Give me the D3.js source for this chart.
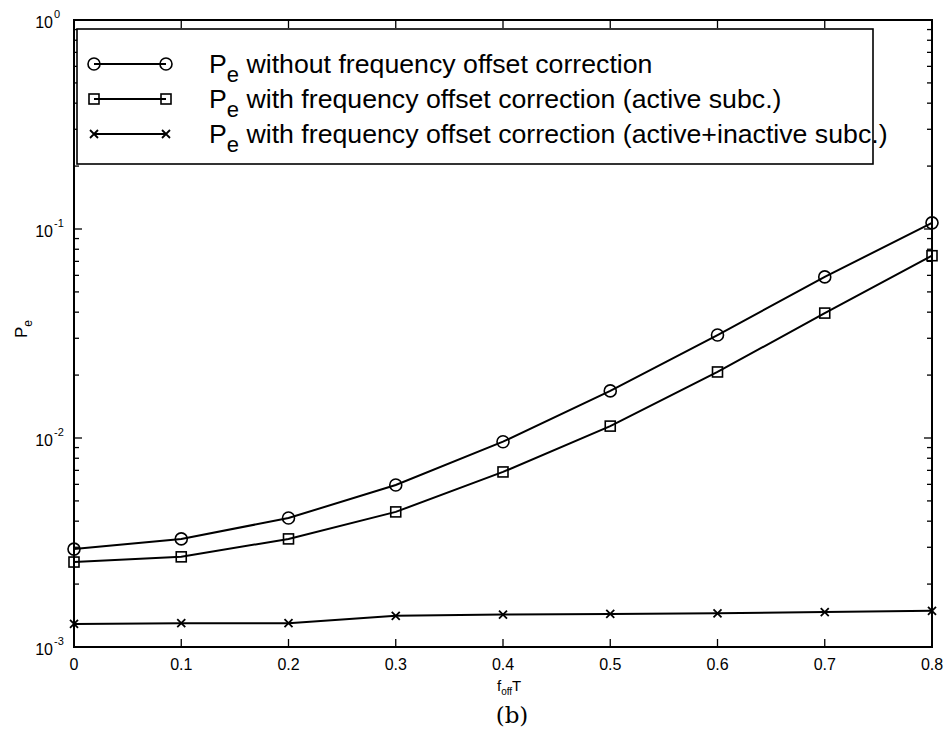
<!DOCTYPE html>
<html>
<head>
<meta charset="utf-8">
<script src="https://cdn.jsdelivr.net/npm/d3@7"></script>
<style>
  html, body { margin: 0; padding: 0; background: #fff; }
  svg { display: block; }
  text { font-family: "Liberation Sans", Arial, Helvetica, sans-serif; fill: #000; }
</style>
</head>
<body>
<svg id="chart" width="949" height="737"></svg>
<script>
// Normalised frequency offset f_off*T
const offsets = [0, 0.1, 0.2, 0.3, 0.4, 0.5, 0.6, 0.7, 0.8];
// Error probability without frequency offset correction
const peNoCorrection = [2.94e-3, 3.29e-3, 4.14e-3, 5.96e-3, 9.6e-3, 1.68e-2, 3.11e-2, 5.9e-2, 1.07e-1];
// Error probability with correction using active subcarriers
const peActive = [2.55e-3, 2.70e-3, 3.29e-3, 4.43e-3, 6.88e-3, 1.14e-2, 2.07e-2, 3.96e-2, 7.45e-2];
// Error probability with correction using active + inactive subcarriers
const peActiveInactive = [1.29e-3, 1.30e-3, 1.30e-3, 1.41e-3, 1.43e-3, 1.44e-3, 1.45e-3, 1.47e-3, 1.49e-3];

const xTicks = [0, 0.1, 0.2, 0.3, 0.4, 0.5, 0.6, 0.7, 0.8];
const xTickLabels = ["0", "0.1", "0.2", "0.3", "0.4", "0.5", "0.6", "0.7", "0.8"];
const yDecades = [1e-3, 1e-2, 1e-1, 1e0];
const yDecadeExponents = ["-3", "-2", "-1", "0"];
const legendLabels = [
  " without frequency offset correction",
  " with frequency offset correction (active subc.)",
  " with frequency offset correction (active+inactive subc.)"
];

const svg = d3.select("#chart");
const plotLeft = 74, plotRight = 932, plotTop = 20, plotBottom = 647;

const x = d3.scaleLinear().domain([0, 0.8]).range([plotLeft, plotRight]);
const y = d3.scaleLog().domain([1e-3, 1]).range([plotBottom, plotTop]);

// minor ticks of the log axis (2..9 inside each decade)
const minor = [];
for (let d = -3; d < 0; d++) for (let m = 2; m <= 9; m++) minor.push(m * Math.pow(10, d));

const axes = svg.append("g");

// tick marks on all four sides
const tickG = axes.append("g").attr("stroke", "#000").attr("stroke-width", 1.3);
xTicks.forEach(v => {
  tickG.append("line").attr("x1", x(v)).attr("x2", x(v)).attr("y1", plotBottom).attr("y2", plotBottom - 8);
  tickG.append("line").attr("x1", x(v)).attr("x2", x(v)).attr("y1", plotTop).attr("y2", plotTop + 8);
});
yDecades.forEach(v => {
  tickG.append("line").attr("x1", plotLeft).attr("x2", plotLeft + 8).attr("y1", y(v)).attr("y2", y(v));
  tickG.append("line").attr("x1", plotRight).attr("x2", plotRight - 8).attr("y1", y(v)).attr("y2", y(v));
});
minor.forEach(v => {
  tickG.append("line").attr("x1", plotLeft).attr("x2", plotLeft + 5).attr("y1", y(v)).attr("y2", y(v));
  tickG.append("line").attr("x1", plotRight).attr("x2", plotRight - 5).attr("y1", y(v)).attr("y2", y(v));
});

// frame
axes.append("rect")
  .attr("x", plotLeft).attr("y", plotTop)
  .attr("width", plotRight - plotLeft).attr("height", plotBottom - plotTop)
  .attr("fill", "none").attr("stroke", "#000").attr("stroke-width", 2);

// x tick labels
axes.append("g").selectAll("text").data(xTicks).join("text")
  .attr("x", d => x(d)).attr("y", plotBottom + 23)
  .attr("text-anchor", "middle").attr("font-size", 16)
  .text((d, i) => xTickLabels[i]);

// y tick labels: 10 with a superscript exponent
yDecades.forEach((v, i) => {
  axes.append("text").attr("x", 53).attr("y", y(v) + 8)
    .attr("text-anchor", "end").attr("font-size", 16).text("10");
  axes.append("text").attr("x", 54).attr("y", y(v) - 2)
    .attr("font-size", 11).text(yDecadeExponents[i]);
});

// axis titles
const xl = axes.append("text").attr("x", 497).attr("y", 691).attr("font-size", 15);
xl.append("tspan").text("f");
xl.append("tspan").attr("dy", 4).attr("font-size", 10).text("off");
xl.append("tspan").attr("dy", -4).text("T");

const yl = axes.append("text")
  .attr("transform", "translate(27,338) rotate(-90)").attr("font-size", 17);
yl.append("tspan").text("P");
yl.append("tspan").attr("dy", 5).attr("font-size", 12).text("e");

svg.append("text").attr("x", 512).attr("y", 723)
  .attr("text-anchor", "middle").attr("font-size", 23)
  .style("font-family", "'DejaVu Serif', 'Liberation Serif', serif")
  .text("(b)");

// series
const seriesList = [
  { values: peNoCorrection, marker: "circle" },
  { values: peActive, marker: "square" },
  { values: peActiveInactive, marker: "cross" }
];

const line = d3.line().x((d, i) => x(offsets[i])).y(d => y(d));

function drawMarker(g, type, cx, cy) {
  if (type === "circle") {
    g.append("circle").attr("cx", cx).attr("cy", cy).attr("r", 6)
      .attr("fill", "none").attr("stroke", "#000").attr("stroke-width", 1.6);
  } else if (type === "square") {
    g.append("rect").attr("x", cx - 5).attr("y", cy - 5).attr("width", 10).attr("height", 10)
      .attr("fill", "none").attr("stroke", "#000").attr("stroke-width", 1.6);
  } else {
    const s = 4;
    g.append("path").attr("d", `M${cx - s},${cy - s}L${cx + s},${cy + s}M${cx - s},${cy + s}L${cx + s},${cy - s}`)
      .attr("stroke", "#000").attr("stroke-width", 1.8);
  }
}

const plot = svg.append("g");
seriesList.forEach(s => {
  plot.append("path").datum(s.values).attr("d", line)
    .attr("fill", "none").attr("stroke", "#000").attr("stroke-width", 2);
  const mg = plot.append("g");
  s.values.forEach((v, i) => drawMarker(mg, s.marker, x(offsets[i]), y(v)));
});

// legend
const lg = svg.append("g");
lg.append("rect").attr("x", 77).attr("y", 29).attr("width", 796).attr("height", 135)
  .attr("fill", "#fff").attr("stroke", "#000").attr("stroke-width", 1.6);
const rowY = [64, 99, 134];
seriesList.forEach((s, i) => {
  const yy = rowY[i];
  lg.append("line").attr("x1", 94).attr("x2", 166).attr("y1", yy).attr("y2", yy)
    .attr("stroke", "#000").attr("stroke-width", 2);
  drawMarker(lg, s.marker, 94, yy);
  drawMarker(lg, s.marker, 166, yy);
  const t = lg.append("text").attr("x", 209).attr("y", yy + 9).attr("font-size", 26.7);
  t.append("tspan").text("P");
  t.append("tspan").attr("dy", 9).attr("font-size", 22).text("e");
  t.append("tspan").attr("dy", -9).text(legendLabels[i]);
});
</script>
</body>
</html>
